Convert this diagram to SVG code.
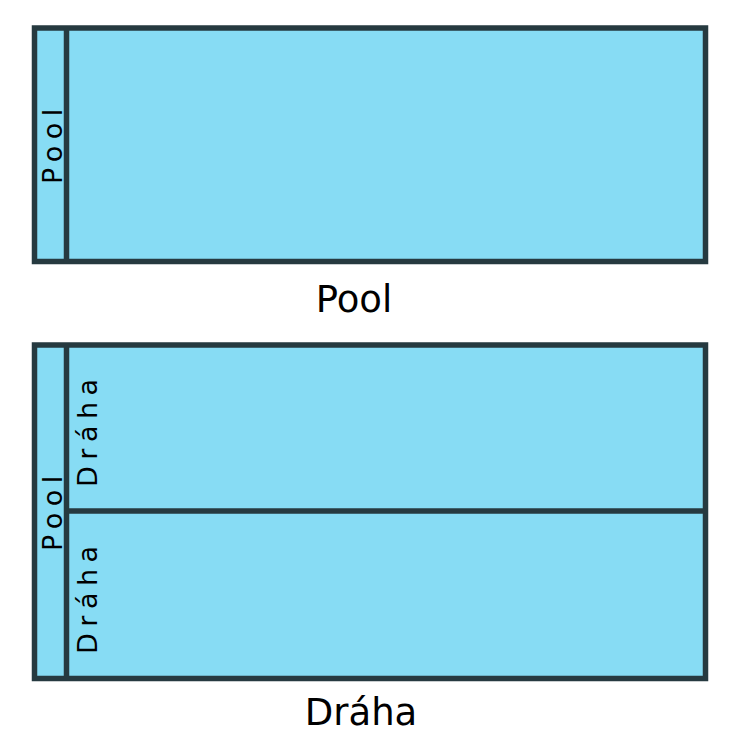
<svg xmlns="http://www.w3.org/2000/svg" width="731" height="740" viewBox="0 0 731 740">
<style>
.box{fill:#87dcf4;stroke:#263a40;stroke-width:5.5}
.ln{stroke:#263a40;stroke-width:5.5;fill:none}
.vt{font-family:"DejaVu Sans",Verdana,sans-serif;font-size:27px;letter-spacing:6.5px;fill:#000}
.cap{font-family:"DejaVu Sans",Verdana,sans-serif;font-size:37px;fill:#000;text-anchor:middle}
</style>
<rect width="731" height="740" fill="#fff"/>
<g id="pool1">
<rect class="box" x="34.5" y="28" width="671" height="233.5"/>
<line class="ln" x1="66.5" y1="28" x2="66.5" y2="261.5"/>
<text class="vt" transform="translate(61.5,184) rotate(-90)">Pool</text>
</g>
<text id="caption1" class="cap" x="354" y="312">Pool</text>
<g id="pool2">
<rect class="box" x="34.5" y="345" width="671" height="333.5"/>
<line class="ln" x1="66.5" y1="345" x2="66.5" y2="678.5"/>
<text class="vt" transform="translate(61.5,551) rotate(-90)">Pool</text>
</g>
<g id="lane1">
<text class="vt" transform="translate(96.5,487) rotate(-90)">Dráha</text>
</g>
<g id="lane2">
<text class="vt" transform="translate(96.5,654) rotate(-90)">Dráha</text>
</g>
<g id="connectors">
<line class="ln" x1="66.5" y1="511" x2="705.5" y2="511"/>
</g>
<text id="caption2" class="cap" x="361" y="725">Dráha</text>
</svg>
